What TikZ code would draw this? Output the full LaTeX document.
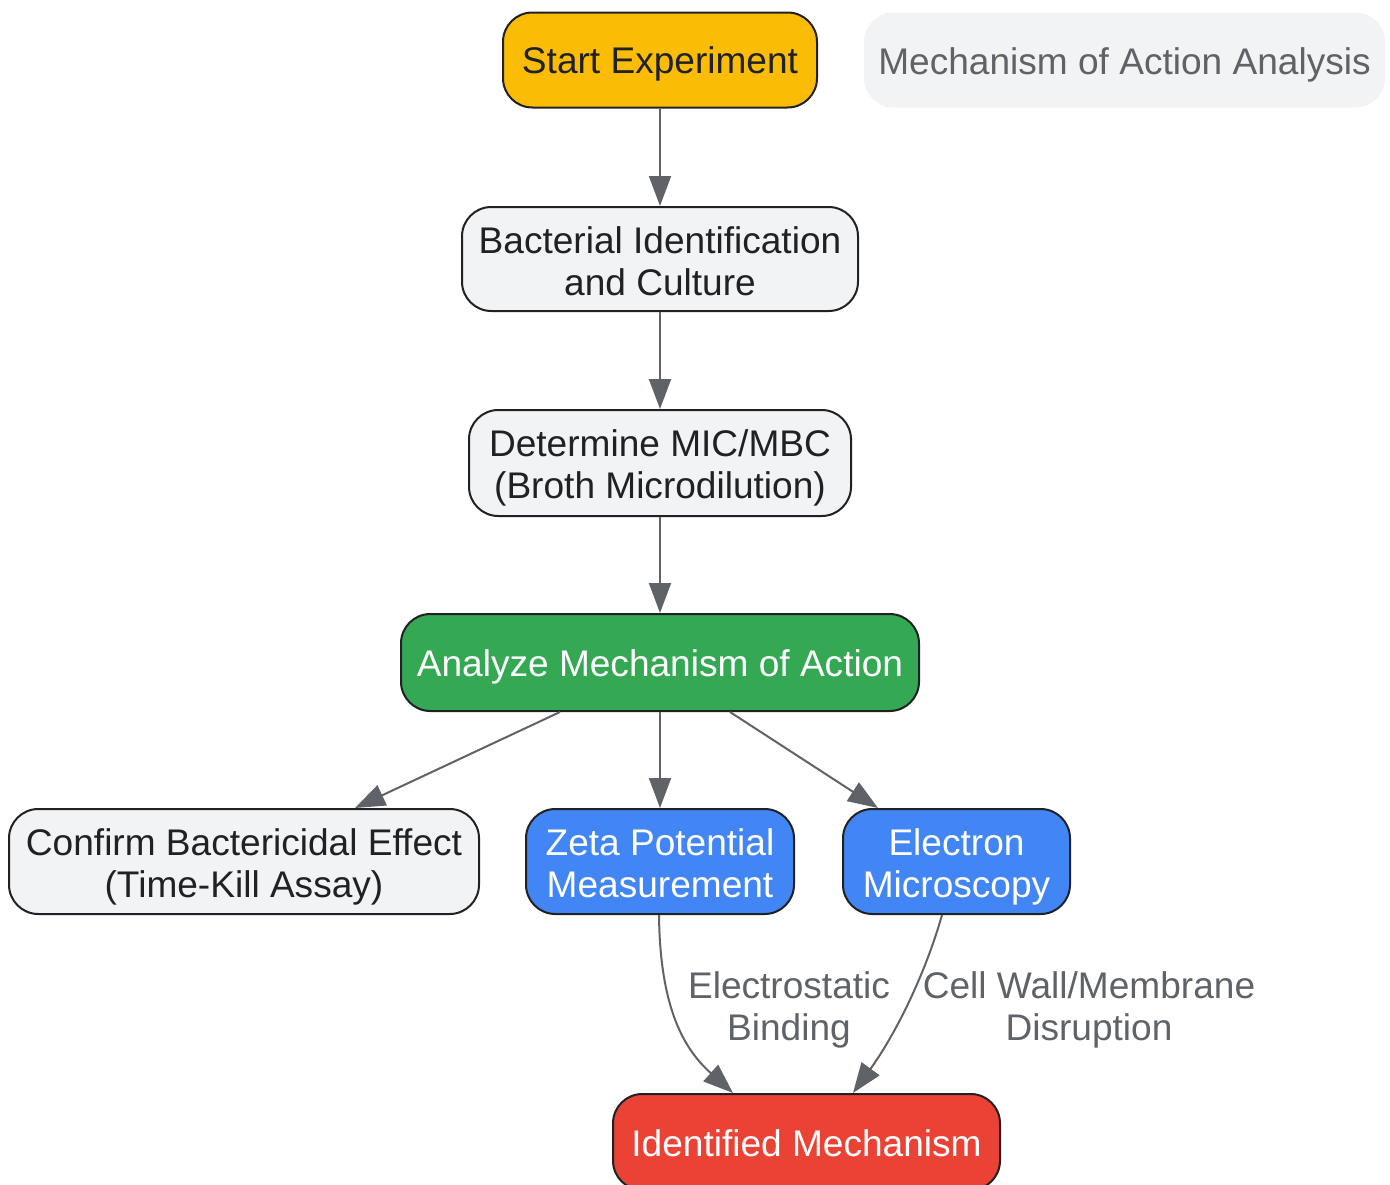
\documentclass[tikz,border=0pt]{standalone}
\usepackage{fontspec}
\setmainfont{Liberation Sans}
\usetikzlibrary{arrows.meta,calc}
\definecolor{cyel}{HTML}{FBBC05}
\definecolor{cgry}{HTML}{F1F3F4}
\definecolor{cgrn}{HTML}{34A853}
\definecolor{cblu}{HTML}{4285F4}
\definecolor{cred}{HTML}{EA4335}
\definecolor{cdark}{HTML}{202124}
\definecolor{cedge}{HTML}{5F6368}
\tikzset{
  box/.style={draw=cdark, line width=1.5pt, rounded corners=22pt, inner sep=0pt},
  lightbox/.style={box, fill=cgry},
  tx/.style={align=center, inner sep=0pt, font=\fontsize{27.8}{31.5}\selectfont, text=cdark, yshift=-3pt},
  wtx/.style={tx, text=white},
  conn/.style={draw=cedge, line width=1.5pt, -{Triangle[length=22.5pt,width=16.5pt]}},
  elabel/.style={align=center, text=cedge, font=\fontsize{27.8}{31.5}\selectfont},
}
\begin{document}
\begin{tikzpicture}[x=0.75pt,y=-0.75pt]
\useasboundingbox (0,0) rectangle (1390,1185);
\node[box, fill=cyel, minimum width=314*0.75pt, minimum height=95*0.75pt,
  label={[tx]center:Start Experiment}] (start) at (660,60) {};
\node[box, draw=none, fill=cgry, minimum width=521*0.75pt, minimum height=95*0.75pt,
  label={[tx, text=cedge, yshift=-0.75pt]center:Mechanism of Action Analysis}] (title) at (1124.5,60) {};
\node[lightbox, minimum width=396*0.75pt, minimum height=104*0.75pt,
  label={[tx, yshift=1pt]center:{Bacterial Identification\\and Culture}}] (bact) at (660,259) {};
\node[lightbox, minimum width=382*0.75pt, minimum height=106*0.75pt,
  label={[tx, yshift=-0.75pt]center:{Determine MIC/MBC\\(Broth Microdilution)}}] (mic) at (660,463) {};
\node[box, fill=cgrn, minimum width=518*0.75pt, minimum height=97*0.75pt,
  label={[wtx]center:Analyze Mechanism of Action}] (anal) at (660,662.5) {};
\node[lightbox, minimum width=470*0.75pt, minimum height=105*0.75pt,
  label={[tx, yshift=-0.75pt]center:{Confirm Bactericidal Effect\\(Time-Kill Assay)}}] (conf) at (244,861.5) {};
\node[box, fill=cblu, minimum width=268*0.75pt, minimum height=105*0.75pt,
  label={[wtx, yshift=1.5pt]center:{Zeta Potential\\Measurement}}] (zeta) at (660,861.5) {};
\node[box, fill=cblu, minimum width=227*0.75pt, minimum height=105*0.75pt,
  label={[wtx, yshift=-0.75pt]center:{Electron\\Microscopy}}] (em) at (956.5,861.5) {};
\node[box, fill=cred, minimum width=387*0.75pt, minimum height=96*0.75pt,
  label={[wtx, yshift=2.25pt]center:Identified Mechanism}] (ident) at (806.5,1142) {};

\draw[conn] (start.south) -- (bact.north);
\draw[conn] (bact.south) -- (mic.north);
\draw[conn] (mic.south) -- (anal.north);
\draw[conn] ($(anal.south)+(-100,0)$) -- ($(conf.north)+(111,0)$);
\draw[conn] (anal.south) -- (zeta.north);
\draw[conn] ($(anal.south)+(70,0)$) -- ($(em.north)+(-78.5,0)$);
\draw[conn] ($(zeta.south)+(-1,0)$) .. controls (660,1010) and (685,1050) .. ($(ident.north)+(-73.5,0)$);
\draw[conn] ($(em.south)+(-14.5,0)$) .. controls (925,975) and (895,1035) .. ($(ident.north)+(46.5,0)$);

\node[elabel] (l1) at (789,1010) {Electrostatic\\Binding};
\node[elabel] (l2) at (1089,1010) {Cell Wall/Membrane\\Disruption};
\end{tikzpicture}
\end{document}
